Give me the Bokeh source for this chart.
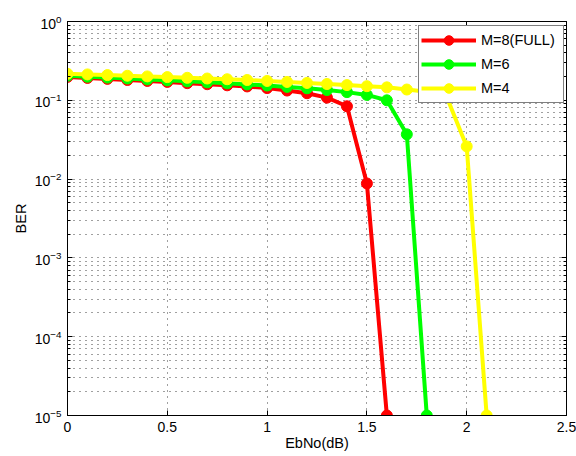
from bokeh.plotting import figure
from bokeh.models import (Range1d, FixedTicker, LogAxis, LinearAxis, Legend,
                          LegendItem, LogTickFormatter)
from bokeh.embed import file_html
from bokeh.resources import INLINE

# ---- data ----
ebno_m8 = [0.0, 0.1, 0.2, 0.3, 0.4, 0.5, 0.6, 0.7, 0.8, 0.9, 1.0, 1.1, 1.2, 1.3, 1.4, 1.5, 1.6]
ber_m8 = [0.198, 0.192, 0.187, 0.181, 0.176, 0.171, 0.165, 0.160, 0.155, 0.150,
          0.143, 0.133, 0.123, 0.108, 0.084, 0.0088, 1e-5]

ebno_m6 = [0.0, 0.1, 0.2, 0.3, 0.4, 0.5, 0.6, 0.7, 0.8, 0.9, 1.0, 1.1, 1.2, 1.3, 1.4, 1.5, 1.6, 1.7, 1.8]
ber_m6 = [0.205, 0.199, 0.194, 0.189, 0.184, 0.179, 0.174, 0.169, 0.164, 0.159,
          0.154, 0.148, 0.142, 0.135, 0.127, 0.117, 0.100, 0.037, 1e-5]

ebno_m4 = [0.0, 0.1, 0.2, 0.3, 0.4, 0.5, 0.6, 0.7, 0.8, 0.9, 1.0, 1.1, 1.2, 1.3, 1.4,
           1.5, 1.6, 1.7, 1.8, 1.9, 2.0, 2.1]
ber_m4 = [0.217, 0.213, 0.209, 0.205, 0.201, 0.197, 0.193, 0.189, 0.185, 0.181,
          0.176, 0.171, 0.166, 0.161, 0.156, 0.151, 0.146, 0.137, 0.128, 0.110, 0.026, 1e-5]

series_labels = ["M=8(FULL)", "M=6", "M=4"]
series_colors = ["#FF0000", "#00FF00", "#FFFF00"]

x_ticks = [0, 0.5, 1, 1.5, 2, 2.5]
x_tick_labels = ["0", "0.5", "1", "1.5", "2", "2.5"]
y_ticks = [1e-5, 1e-4, 1e-3, 1e-2, 1e-1, 1e0]
y_minor = [m * d for d in [1e-5, 1e-4, 1e-3, 1e-2, 1e-1] for m in range(2, 10)]

FONT = "Liberation Sans"
FS_TICK = "14px"
FS_LAB = "14.5px"

p = figure(width=576, height=456, output_backend="svg", toolbar_location=None,
           y_axis_type="log", x_range=Range1d(0, 2.5), y_range=Range1d(1e-5, 1),
           min_border_left=67, min_border_right=10, min_border_top=21, min_border_bottom=41,
           background_fill_color="white", border_fill_color="white")
p.outline_line_color = "black"
p.outline_line_width = 1

xt = FixedTicker(ticks=x_ticks)
yt = FixedTicker(ticks=y_ticks, minor_ticks=y_minor)
overrides = {t: l for t, l in zip(x_ticks, x_tick_labels)}

xa = p.xaxis[0]
xa.ticker = xt
xa.major_label_overrides = overrides
ya = p.yaxis[0]
ya.ticker = yt
ya.formatter = LogTickFormatter()

for ax in (xa, ya):
    ax.major_tick_in = 5
    ax.major_tick_out = 0
    ax.minor_tick_in = 3
    ax.minor_tick_out = 0
    ax.axis_line_color = "black"
    ax.major_tick_line_color = "black"
    ax.minor_tick_line_color = "black"
    ax.major_label_text_font = FONT
    ax.major_label_text_font_size = FS_TICK
    ax.major_label_text_color = "black"
    ax.axis_label_text_font = FONT
    ax.axis_label_text_font_size = FS_LAB
    ax.axis_label_text_font_style = "normal"
    ax.axis_label_text_color = "black"
xa.minor_tick_line_color = None
xa.axis_label = "EbNo(dB)"
xa.axis_label_standoff = 0
xa.major_label_standoff = 6
ya.axis_label = "BER"
ya.axis_label_standoff = 3
ya.major_label_standoff = 6

# box axes (top/right) with inside ticks only, labels blanked
blank_x = {t: "" for t in x_ticks}
blank_y = {t: "" for t in y_ticks}
top = LinearAxis(ticker=xt, major_tick_in=5, major_tick_out=0, minor_tick_line_color=None,
                 major_label_overrides=blank_x, major_label_standoff=0,
                 major_label_text_font_size="1px", axis_line_color="black")
right = LogAxis(ticker=yt, major_tick_in=5, major_tick_out=0, minor_tick_in=3, minor_tick_out=0,
                major_label_overrides=blank_y, major_label_standoff=0,
                major_label_text_font_size="1px", axis_line_color="black")
p.add_layout(top, "above")
p.add_layout(right, "right")

# grids
for g in (p.xgrid[0], p.ygrid[0]):
    g.grid_line_color = "#000000"
    g.grid_line_alpha = 0.75
    g.grid_line_dash = "1 5"
    g.grid_line_width = 1
p.ygrid[0].ticker = yt
p.xgrid[0].ticker = xt
p.ygrid[0].minor_grid_line_color = "#000000"
p.ygrid[0].minor_grid_line_alpha = 0.75
p.ygrid[0].minor_grid_line_dash = "1 5"

items = []
for xs, ys, lab, col in zip([ebno_m8, ebno_m6, ebno_m4], [ber_m8, ber_m6, ber_m4],
                            series_labels, series_colors):
    lr = p.line(xs, ys, line_color=col, line_width=4)
    sr = p.scatter(xs, ys, marker="circle", size=11, fill_color=col, line_color=col)
    items.append(LegendItem(label=lab, renderers=[lr, sr]))

legend = Legend(items=items, location=(351, 312), padding=2, spacing=-2,
                glyph_width=55, glyph_height=24, label_height=20, label_width=80,
                label_standoff=5, label_text_font=FONT, label_text_font_size=FS_LAB,
                label_text_color="black", border_line_color="black", border_line_width=1,
                background_fill_color="white", background_fill_alpha=1.0, margin=0)
p.add_layout(legend)

open("out.html", "w").write(file_html(p, INLINE))
